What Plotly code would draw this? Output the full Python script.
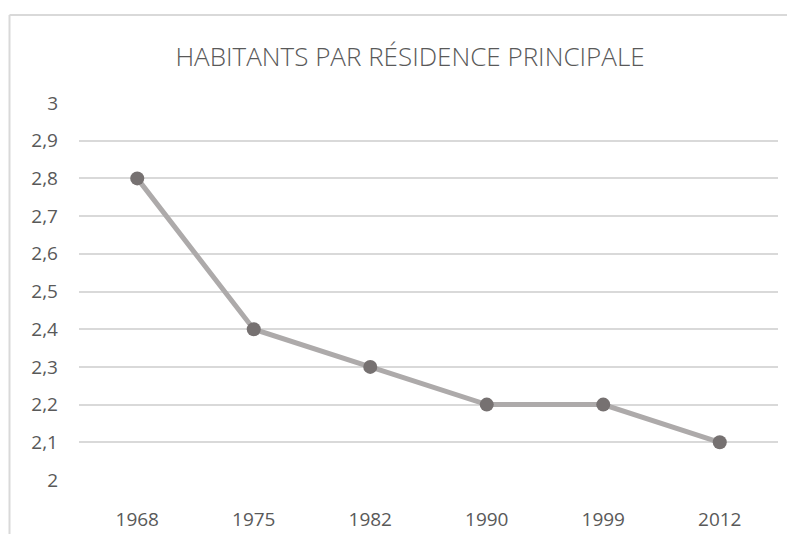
import plotly.graph_objects as go

years = ["1968", "1975", "1982", "1990", "1999", "2012"]
habitants = [2.8, 2.4, 2.3, 2.2, 2.2, 2.1]
y_ticks = [2.0, 2.1, 2.2, 2.3, 2.4, 2.5, 2.6, 2.7, 2.8, 2.9, 3.0]
y_labels = ["2", "2,1", "2,2", "2,3", "2,4", "2,5", "2,6", "2,7", "2,8", "2,9", "3"]
title_text = "HABITANTS PAR RÉSIDENCE PRINCIPALE"

# page body has an 8px default margin, so the figure is drawn 8px right/down
OFF = 8
W, H = 795, 534
L, T = 79 - OFF, 103 - OFF
R = W - (778 - OFF)
B = H - (480 - OFF)
pw, ph = W - L - R, H - T - B

fig = go.Figure()
fig.add_trace(go.Scatter(
    x=years, y=habitants, mode="lines+markers",
    line=dict(color="#ADAAAA", width=5),
    marker=dict(color="#767171", size=14),
    hoverinfo="x+y",
))

# chart frame: top and left edges visible
fx0 = ((9.5 - OFF) - L) / pw
fy1 = (T + ph - (15 - OFF)) / ph
fx1 = (W - L) / pw
fy0 = -B / ph
fig.add_shape(type="line", xref="paper", yref="paper", x0=fx0, x1=fx1, y0=fy1, y1=fy1,
              line=dict(color="#D9D9D9", width=2), layer="below")
fig.add_shape(type="line", xref="paper", yref="paper", x0=fx0, x1=fx0, y0=fy0, y1=fy1,
              line=dict(color="#D9D9D9", width=2), layer="below")

fig.update_layout(
    width=W, height=H,
    margin=dict(l=L, r=R, t=T, b=B, pad=0, autoexpand=False),
    paper_bgcolor="white", plot_bgcolor="white",
    showlegend=False,
    title=dict(text=title_text, x=(410 - OFF) / W, xanchor="center",
               y=1 - (57 - OFF) / H, yanchor="middle",
               xref="container", yref="container",
               font=dict(family="Open Sans", size=26, color="#595959", weight=300)),
    font=dict(family="Open Sans", color="#595959"),
)
fig.update_xaxes(
    type="category", range=[-0.5, len(years) - 0.5], automargin=False,
    showgrid=False, showline=False, zeroline=False,
    tickfont=dict(size=19, color="#595959"), ticks="", ticklabelstandoff=26,
)
fig.update_yaxes(
    range=[2.0, 3.0], tickvals=y_ticks, ticktext=y_labels, automargin=False,
    showgrid=True, gridcolor="#D9D9D9", gridwidth=1.5, zeroline=False, showline=False,
    tickfont=dict(size=19, color="#595959"), ticks="", ticklabelstandoff=20,
)

fig.write_html("out.html")
